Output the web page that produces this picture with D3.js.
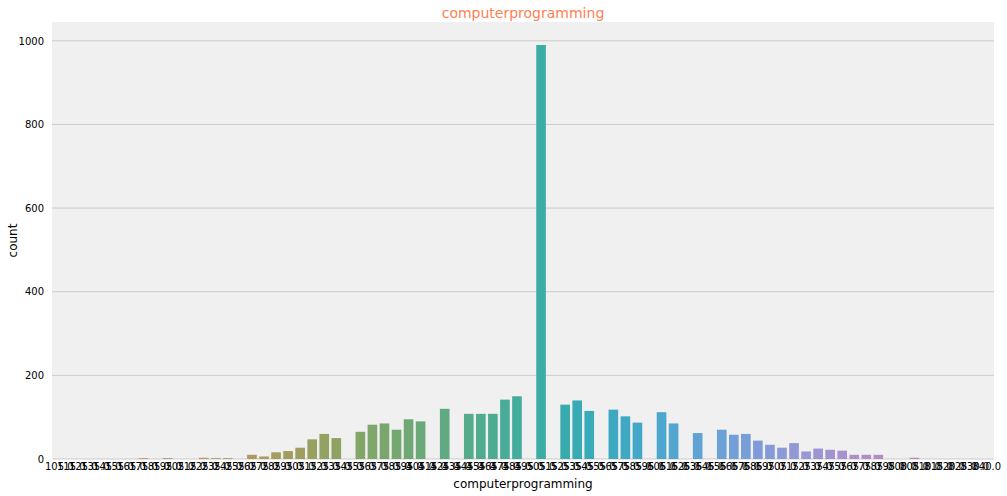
<!DOCTYPE html><html><head><meta charset="utf-8"><script src="https://cdn.jsdelivr.net/npm/d3@7"></script>
<style>body{margin:0;background:#fff;font-family:"DejaVu Sans",sans-serif}</style></head><body><svg id="c" width="1007" height="496"></svg>
<script>
const categories=[];
for(let v=105;v<=795;v+=10)categories.push(v.toFixed(1));
["800.0","805.0","810.0","815.0","820.0","825.0","830.0","840.0"].forEach(c=>categories.push(c));
const counts=[0,0,0,0,0,0,0,2,0,2,0,0,3,2,2,0,10,6,16,19,27,47,60,50,0,65,82,85,70,95,90,0,120,0,108,108,108,142,150,0,990,0,130,140,115,0,118,102,87,0,112,85,0,62,0,70,58,60,44,34,27,38,18,25,22,20,10,10,10,0,0,3,0,0,0,0,0,0];
const yTicks=[0,200,400,600,800,1000];
const svg=d3.select("#c");
const m={l:52,r:13,t:22,b:37},W=1007,H=496;
svg.append("rect").attr("x",m.l).attr("y",m.t).attr("width",W-m.l-m.r).attr("height",H-m.t-m.b).attr("fill","#f0f0f0");
const x=d3.scaleBand().domain(categories).range([m.l,W-m.r]).padding(0.2);
const y=d3.scaleLinear().domain([0,1045]).range([H-m.b,m.t]);
svg.append("g").selectAll("line").data(yTicks).join("line").attr("x1",m.l).attr("x2",W-m.r).attr("y1",d=>y(d)).attr("y2",d=>y(d)).attr("stroke","#cbcbcb");
const n=categories.length;
svg.append("g").selectAll("rect").data(counts).join("rect").attr("x",(d,i)=>x(categories[i])).attr("width",x.bandwidth())
 .attr("y",d=>y(d)).attr("height",d=>y(0)-y(d)).attr("fill",(d,i)=>d3.hcl(15+345*i/n,34,64)+"");
const ya=svg.append("g").attr("transform",`translate(${m.l},0)`).call(d3.axisLeft(y).tickValues(yTicks).tickFormat(d3.format("d")).tickSize(0).tickPadding(8));
const xa=svg.append("g").attr("transform",`translate(0,${H-m.b})`).call(d3.axisBottom(x).tickSize(0).tickPadding(4));
[ya,xa].forEach(a=>{a.select(".domain").remove();a.selectAll("text").attr("font-size",10).attr("fill","#000").attr("font-family","DejaVu Sans");});
svg.append("text").attr("x",(m.l+W-m.r)/2).attr("y",18).attr("text-anchor","middle").attr("font-size",14).attr("fill","#ff7f50").text("computerprogramming");
svg.append("text").attr("x",(m.l+W-m.r)/2).attr("y",488).attr("text-anchor","middle").attr("font-size",12).text("computerprogramming");
svg.append("text").attr("transform",`translate(17,${(m.t+H-m.b)/2}) rotate(-90)`).attr("text-anchor","middle").attr("font-size",12).text("count");
</script></body></html>
